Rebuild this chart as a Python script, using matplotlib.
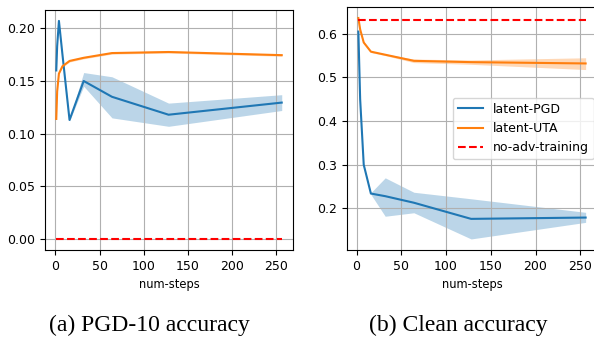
import matplotlib
matplotlib.use("Agg")
import matplotlib.pyplot as plt
import numpy as np

# num-steps used in the two runs
steps_a = [1, 2, 4, 8, 16, 32, 64, 128, 256]
steps_b = [2, 4, 8, 16, 32, 64, 128, 256]

# (a) PGD-10 accuracy
pgd_a = [0.160, 0.183, 0.207, 0.175, 0.113, 0.150, 0.135, 0.118, 0.1295]
pgd_a_lo = [0.160, 0.183, 0.207, 0.175, 0.112, 0.145, 0.115, 0.107, 0.122]
pgd_a_hi = [0.160, 0.183, 0.207, 0.175, 0.114, 0.158, 0.154, 0.129, 0.137]
uta_a = [0.114, 0.140, 0.157, 0.164, 0.169, 0.172, 0.1765, 0.1775, 0.1745]
uta_a_lo = [0.114, 0.140, 0.157, 0.163, 0.168, 0.171, 0.1755, 0.1765, 0.1735]
uta_a_hi = [0.114, 0.140, 0.157, 0.165, 0.170, 0.173, 0.1775, 0.1785, 0.1755]
noadv_a = 0.0

# (b) Clean accuracy
pgd_b = [0.605, 0.45, 0.30, 0.234, 0.228, 0.213, 0.176, 0.179]
pgd_b_lo = [0.605, 0.45, 0.30, 0.232, 0.182, 0.190, 0.130, 0.168]
pgd_b_hi = [0.605, 0.45, 0.30, 0.236, 0.270, 0.237, 0.222, 0.191]
uta_b = [0.636, 0.610, 0.580, 0.559, 0.552, 0.538, 0.535, 0.532]
uta_b_lo = [0.636, 0.610, 0.578, 0.557, 0.550, 0.534, 0.530, 0.518]
uta_b_hi = [0.636, 0.610, 0.582, 0.561, 0.554, 0.542, 0.540, 0.545]
noadv_b = 0.632

labels = ['latent-PGD', 'latent-UTA', 'no-adv-training']
captions = ['(a) PGD-10 accuracy', '(b) Clean accuracy']

fig = plt.figure(figsize=(5.94, 3.37), dpi=100)
ax1 = fig.add_axes([45 / 594, 87 / 337, 248 / 594, 240 / 337])
ax2 = fig.add_axes([347 / 594, 87 / 337, 250 / 594, 243 / 337])


def draw(ax, steps, pgd, pgd_lo, pgd_hi, uta, uta_lo, uta_hi, noadv):
    ax.plot(steps, pgd, color='tab:blue', lw=1.5, label=labels[0])
    ax.fill_between(steps, pgd_lo, pgd_hi, color='tab:blue', alpha=0.3, lw=0)
    ax.plot(steps, uta, color='tab:orange', lw=1.5, label=labels[1])
    ax.fill_between(steps, uta_lo, uta_hi, color='tab:orange', alpha=0.3, lw=0)
    ax.plot(steps, [noadv] * len(steps), 'r--', lw=1.5, label=labels[2])
    ax.grid(True, color='#b0b0b0', lw=0.8)
    ax.set_xticks([0, 50, 100, 150, 200, 250])
    ax.tick_params(labelsize=9)
    ax.set_xlabel('num-steps', fontsize=8.3)


draw(ax1, steps_a, pgd_a, pgd_a_lo, pgd_a_hi, uta_a, uta_a_lo, uta_a_hi, noadv_a)
draw(ax2, steps_b, pgd_b, pgd_b_lo, pgd_b_hi, uta_b, uta_b_lo, uta_b_hi, noadv_b)
ax1.set_yticks([0.0, 0.05, 0.10, 0.15, 0.20])
ax1.yaxis.set_major_formatter(matplotlib.ticker.FormatStrFormatter('%.2f'))
ax2.set_yticks([0.2, 0.3, 0.4, 0.5, 0.6])
ax2.legend(loc='center right', fontsize=9, bbox_to_anchor=(1.012, 0.5))

fig.text(149 / 594, 1 - 325 / 337, captions[0], family='Liberation Serif',
         fontsize=17, ha='center', va='center')
fig.text(458 / 594, 1 - 325 / 337, captions[1], family='Liberation Serif',
         fontsize=17, ha='center', va='center')

fig.savefig('out.png', dpi=100)
